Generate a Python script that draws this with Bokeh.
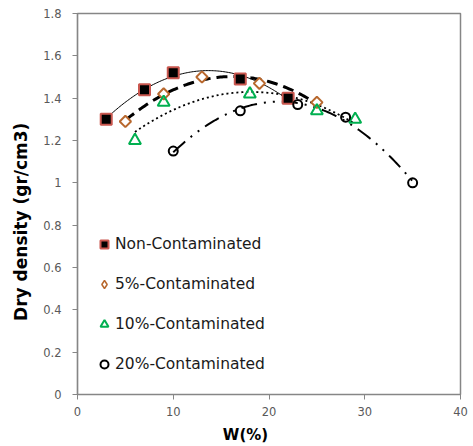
import numpy as np
from bokeh.plotting import figure
from bokeh.models import FixedTicker, Legend, LegendItem
from bokeh.embed import file_html
from bokeh.resources import INLINE

# Data
w_non = [3, 7, 10, 17, 22]
d_non = [1.30, 1.44, 1.52, 1.49, 1.40]
w_5 = [5, 9, 13, 19, 25]
d_5 = [1.29, 1.42, 1.50, 1.47, 1.38]
w_10 = [6, 9, 18, 25, 29]
d_10 = [1.20, 1.38, 1.42, 1.34, 1.30]
w_20 = [10, 17, 23, 28, 35]
d_20 = [1.15, 1.34, 1.37, 1.31, 1.00]

labels = ["Non-Contaminated", "5%-Contaminated", "10%-Contaminated", "20%-Contaminated"]
x_ticks = [0, 10, 20, 30, 40]
y_ticks = [0, 0.2, 0.4, 0.6, 0.8, 1, 1.2, 1.4, 1.6, 1.8]
y_tick_labels = ["0", "0.2", "0.4", "0.6", "0.8", "1", "1.2", "1.4", "1.6", "1.8"]

FONT = "DejaVu Sans"
GRAY = "#868686"
NB = "\u00a0"

p = figure(width=473, height=446, output_backend="svg", toolbar_location=None,
           x_range=(0, 40), y_range=(0, 1.8),
           min_border_left=77, min_border_right=13, min_border_top=13, min_border_bottom=51)
p.grid.visible = False
p.outline_line_color = GRAY
p.outline_line_width = 1.5
p.background_fill_color = "white"
p.border_fill_color = "white"

for ax in (p.xaxis[0], p.yaxis[0]):
    ax.axis_line_color = GRAY
    ax.axis_line_width = 1.2
    ax.major_tick_line_color = GRAY
    ax.major_tick_in = 0
    ax.major_tick_out = 5
    ax.minor_tick_line_color = None
    ax.major_label_text_font = FONT
    ax.major_label_text_font_size = "11.5px"
    ax.major_label_text_color = "#595959"
    ax.axis_label_text_font = FONT
    ax.axis_label_text_font_style = "bold"
    ax.axis_label_text_color = "black"

p.xaxis.ticker = FixedTicker(ticks=x_ticks)
p.yaxis.ticker = FixedTicker(ticks=y_ticks)
p.yaxis.major_label_overrides = {t: l for t, l in zip(y_ticks, y_tick_labels)}
# trailing no-break spaces shift the centred labels to where the reference has them
p.xaxis.axis_label = "W(%)" + NB * 9
p.yaxis.axis_label = "Dry density (gr/cm3)" + NB * 6
p.xaxis.axis_label_text_font_size = "15px"
p.yaxis.axis_label_text_font_size = "17px"
p.xaxis.major_label_standoff = 7
p.xaxis.axis_label_standoff = 7
p.yaxis.major_label_standoff = 11
p.yaxis.axis_label_standoff = 9

# Polynomial (order 2) trendlines fitted to each series
def trend(xs, ys):
    c = np.polyfit(xs, ys, 2)
    xx = np.linspace(min(xs), max(xs), 120)
    return xx, np.polyval(c, xx)

xx, yy = trend(w_non, d_non)
p.line(xx, yy, line_color="black", line_width=1)
xx, yy = trend(w_5, d_5)
p.line(xx, yy, line_color="black", line_width=3, line_dash="11 6")
xx, yy = trend(w_10, d_10)
p.line(xx, yy, line_color="black", line_width=1.8, line_dash="2 3")
xx, yy = trend(w_20, d_20)
p.line(xx, yy, line_color="black", line_width=2, line_dash="16 7 2 7 2 7")

DIAMOND = "#B8682E"
r_non = p.scatter(w_non, d_non, marker="square", size=11, fill_color="black",
                  line_color="#C9574F", line_width=2)
# diamond drawn for the legend, covered in the plot by the rotated square below
r_5 = p.scatter(w_5, d_5, marker="diamond", size=8, fill_color=None,
                line_color=DIAMOND, line_width=1.5)
p.scatter(w_5, d_5, marker="square", angle=np.pi / 4, size=8, fill_color="white",
          line_color=DIAMOND, line_width=2)
r_10 = p.scatter(w_10, d_10, marker="triangle", size=12, fill_color=None,
                 line_color="#00B050", line_width=2)
r_20 = p.scatter(w_20, d_20, marker="circle", size=9, fill_color=None,
                 line_color="black", line_width=2)

legend = Legend(items=[LegendItem(label=l, renderers=[r]) for l, r in
                       zip(labels, [r_non, r_5, r_10, r_20])],
                location=(17, 20), orientation="vertical")
legend.border_line_color = None
legend.background_fill_alpha = 0
legend.margin = 0
legend.padding = 0
legend.spacing = 20
legend.label_height = 20
legend.glyph_height = 20
legend.glyph_width = 20
legend.label_standoff = 1
legend.label_text_font = FONT
legend.label_text_font_size = "15.5px"
legend.label_text_color = "#1a1a1a"
p.add_layout(legend, "center")

open("out.html", "w").write(file_html(p, INLINE))
